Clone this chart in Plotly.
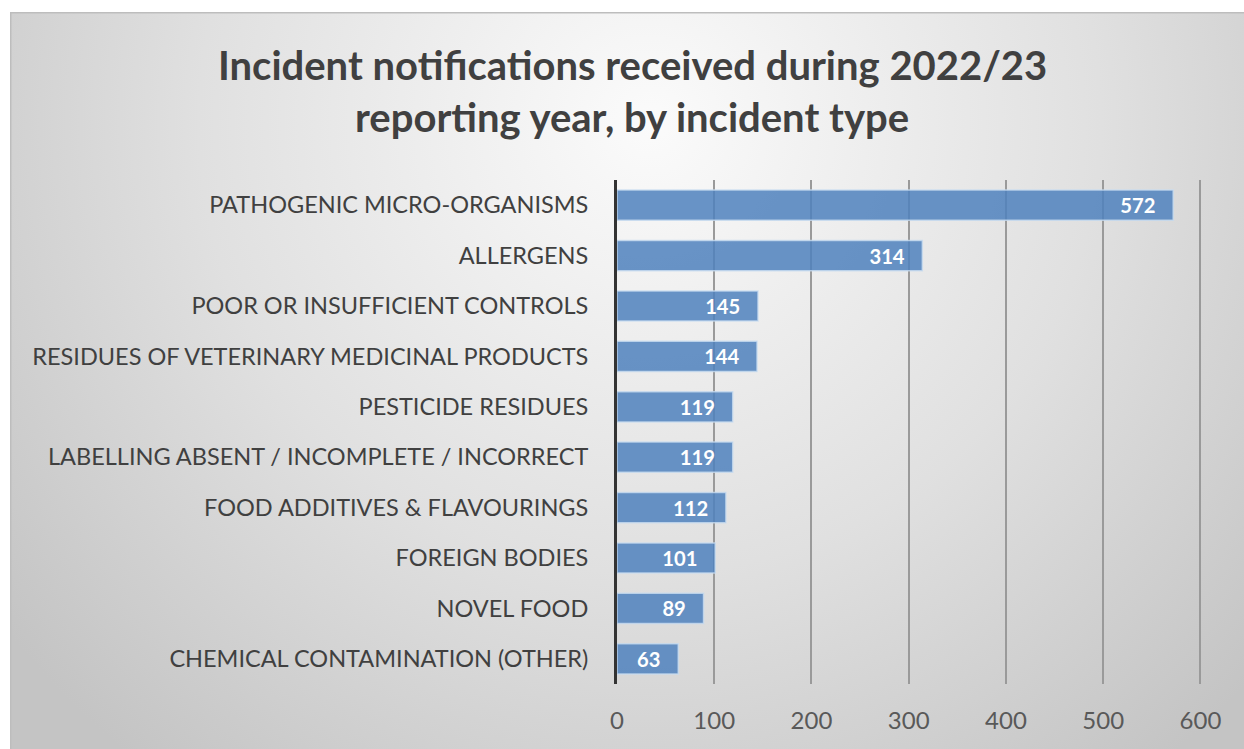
import base64
import plotly.graph_objects as go

categories = [
    'PATHOGENIC MICRO-ORGANISMS',
    'ALLERGENS',
    'POOR OR INSUFFICIENT CONTROLS',
    'RESIDUES OF VETERINARY MEDICINAL PRODUCTS',
    'PESTICIDE RESIDUES',
    'LABELLING ABSENT / INCOMPLETE / INCORRECT',
    'FOOD ADDITIVES & FLAVOURINGS',
    'FOREIGN BODIES',
    'NOVEL FOOD',
    'CHEMICAL CONTAMINATION (OTHER)',
]
counts = [572, 314, 145, 144, 119, 119, 112, 101, 89, 63]
x_ticks = [0, 100, 200, 300, 400, 500, 600]

title_lines = ['Incident notifications received during 2022/23',
               'reporting year, by incident type']

W, H = 1244, 749

# grey radial background like the office chart style (border runs off the right/bottom edge)
bg_svg = """<svg xmlns='http://www.w3.org/2000/svg' width='1234' height='737' viewBox='0 0 1234 737'>
<defs><radialGradient id='g' gradientUnits='userSpaceOnUse' cx='640' cy='110' r='820'>
<stop offset='0' stop-color='#fbfbfb'/><stop offset='0.55' stop-color='#e0e0e0'/><stop offset='1' stop-color='#c4c4c4'/>
</radialGradient></defs>
<rect x='0' y='0' width='1260' height='760' fill='url(#g)' stroke='#bdbdbd' stroke-width='3'/>
</svg>"""
bg_src = 'data:image/svg+xml;base64,' + base64.b64encode(bg_svg.encode()).decode()

fig = go.Figure()
fig.add_trace(go.Bar(
    x=counts,
    y=categories,
    orientation='h',
    marker=dict(color='rgba(79,129,189,0.85)', line=dict(color='rgba(200,220,240,0.8)', width=1.5)),
    text=[str(v) + '\u00a0\u00a0\u00a0' for v in counts],
    textposition='inside',
    insidetextanchor='end',
    textfont=dict(family='Lato', size=25, color='white', weight='bold'),
    cliponaxis=False,
    width=0.6,
))

fig.update_layout(
    width=W, height=H,
    margin=dict(l=617, r=29, t=180, b=65),
    paper_bgcolor='white',
    plot_bgcolor='rgba(0,0,0,0)',
    showlegend=False,
    font=dict(family='Lato', color='#404040'),
    images=[dict(source=bg_src, xref='paper', yref='paper',
                 x=-617 / 598 + 10 / 598, y=1 + 168 / 504,
                 sizex=1234 / 598, sizey=737 / 504,
                 xanchor='left', yanchor='top', sizing='stretch', layer='below')],
    xaxis=dict(range=[0, 615], tickvals=x_ticks, showgrid=True, gridcolor='#9a9a9a', gridwidth=1.5,
               zeroline=False, showline=False, ticks='',
               tickfont=dict(family='Lato', size=24, color='#595959'), ticklabelstandoff=20),
    yaxis=dict(autorange='reversed', showline=True, linecolor='#333333', linewidth=3,
               ticks='', showgrid=False,
               tickfont=dict(family='Lato', size=23.5, color='#404040'), ticklabelstandoff=21),
    bargap=0.4,
)

fig.add_annotation(text=title_lines[0], xref='paper', yref='paper', x=(632 - 617) / 598, y=1 + (180 - 65) / 504,
                   showarrow=False, xanchor='center', yanchor='middle',
                   font=dict(family='Lato', size=40, color='#404040', weight='bold'))
fig.add_annotation(text=title_lines[1], xref='paper', yref='paper', x=(632 - 617) / 598, y=1 + (180 - 117) / 504,
                   showarrow=False, xanchor='center', yanchor='middle',
                   font=dict(family='Lato', size=40, color='#404040', weight='bold'))

fig.write_html("out.html", config={'displayModeBar': False},
               post_script="document.body.style.margin='0px';")
